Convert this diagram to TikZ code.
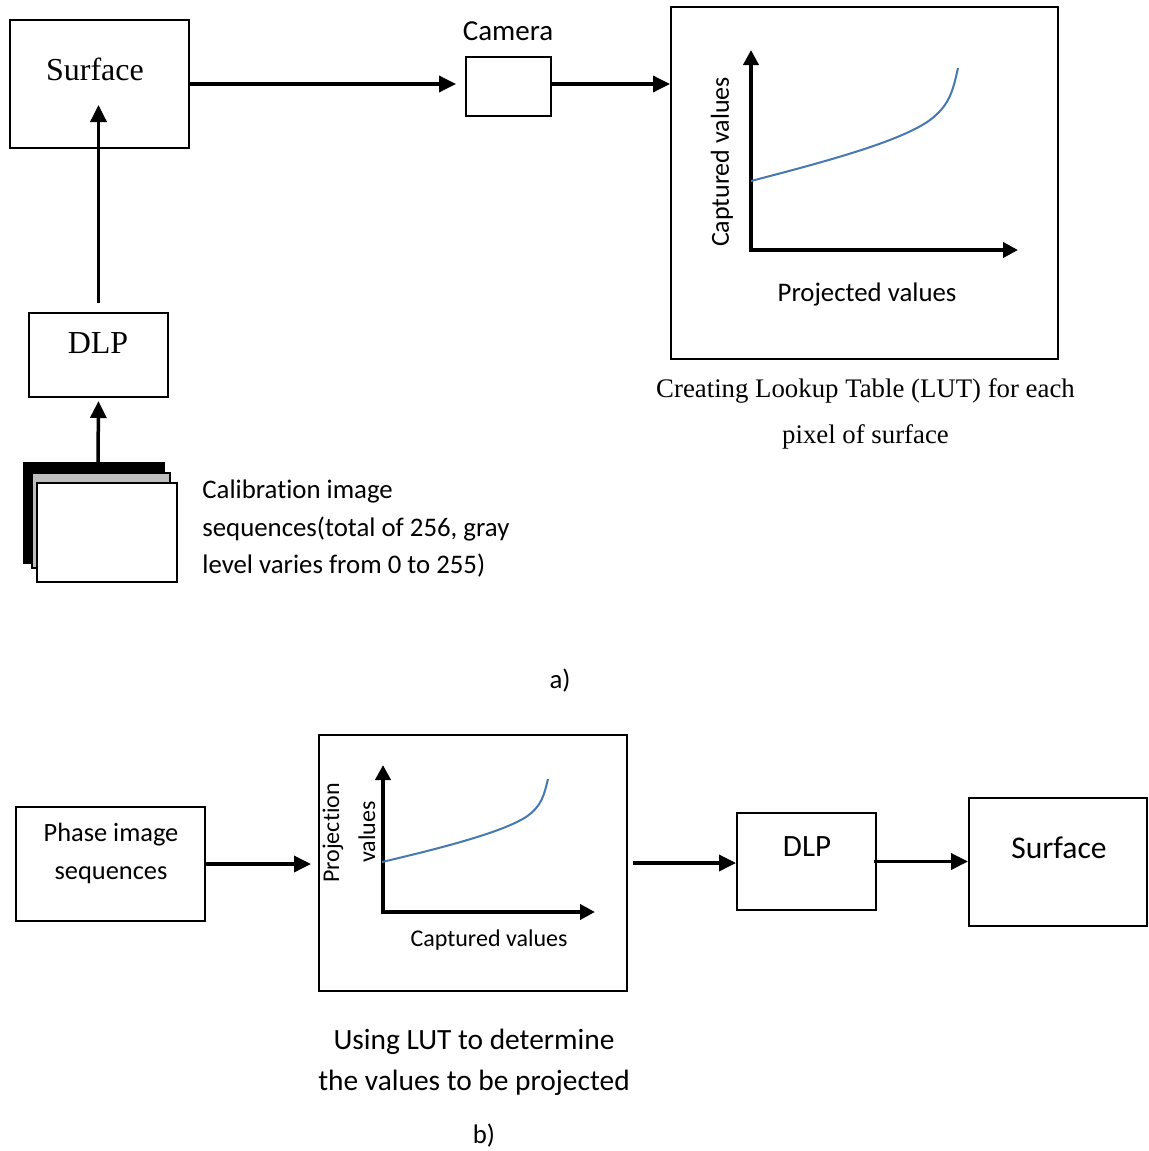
\documentclass[tikz,border=0pt]{standalone}
\usepackage{fontspec}
\setmainfont{Liberation Serif}
\newfontfamily\calibri[RawFeature={-liga}]{Carlito}
\usetikzlibrary{arrows.meta}
\definecolor{curveblue}{RGB}{70,120,178}
\tikzset{
  box/.style={draw=black, line width=1pt, fill=white, inner sep=0pt},
  arr/.style={line width=1.75pt, -{Triangle[length=8.5pt,width=8pt]}},
  axis/.style={line width=2pt, -{Triangle[length=7.5pt,width=7.5pt]}},
  lut/.style={curveblue, line width=1pt},
  sanstext/.style={font=\calibri\fontsize{13.4}{18.75}\selectfont, inner sep=0pt},
  sertext/.style={font=\fontsize{13.4}{23}\selectfont, inner sep=0pt},
}
\begin{document}
\begin{tikzpicture}[x=0.5pt,y=-0.5pt]
\useasboundingbox (0,0) rectangle (1148,1151);

% ---------- a) ----------
\node[box, minimum width=89.5pt, minimum height=64pt] (s1) at (99.5,84) {};
\node[inner sep=0pt, font=\fontsize{16}{19}\selectfont] (s1t) at (95,69) {Surface};

\node[box, minimum width=42.5pt, minimum height=29.5pt] (cam) at (508.5,86.5) {};
\node[sanstext, font=\calibri\fontsize{14.5}{17}\selectfont] (camt) at (508,31) {Camera};

\node[box, minimum width=193.5pt, minimum height=176pt] (lut1) at (864.5,183) {};
\coordinate (o1) at (751,250);
\coordinate (y1) at (751,50);
\coordinate (x1) at (1018,250);
\draw[axis] ([yshift=-1pt]o1) -- (y1);
\draw[axis] ([xshift=-1pt]o1) -- (x1);
\draw[lut] (751,181) .. controls (820,163) and (900,142) .. (930,120)
  .. controls (950,105) and (953,90) .. (958,68);
\node[sanstext, font=\calibri\fontsize{13}{16}\selectfont, rotate=90] (capv1) at (722,162) {Captured values};
\node[sanstext] (projv1) at (867,294) {Projected values};
\node[sertext, align=center] (cap1) at (865.5,414) {Creating Lookup Table (LUT) for each\\pixel of surface};

\node[box, minimum width=69.5pt, minimum height=42pt] (dlp1) at (98.5,355) {};
\node[inner sep=0pt, font=\fontsize{16}{19}\selectfont] (dlp1t) at (98,343) {DLP};

% stack of calibration images
\draw[line width=1pt, fill=black] (24,463) rectangle (164,563);
\draw[line width=1pt, fill=black!25] (32,473) rectangle (170,568);
\draw[line width=1pt, fill=white] (37,483) rectangle (177,582);
\coordinate (stk) at (98,462);
\node[sanstext, align=left, anchor=west] (calt) at (202,529) {Calibration image\\sequences(total of 256, gray\\level varies from 0 to 255)};

\draw[arr] (s1.east) -- ([xshift=-4.5pt]s1.east -| cam.west);
\draw[arr] ([yshift=1.25pt,xshift=-1pt]cam.east) -- ([yshift=1.25pt]cam.east -| lut1.west);
\draw[arr] ([yshift=4.5pt]dlp1.north) -- ([yshift=22pt]s1.south -| dlp1.north);
\draw[arr] (stk) -- ([yshift=-1.5pt]dlp1.south);

\node[sanstext] (la) at (560,681) {a)};

% ---------- b) ----------
\node[box, minimum width=94.5pt, minimum height=57pt] (ph) at (110.5,864) {};
\node[sanstext, align=center, font=\calibri\fontsize{13.2}{19}\selectfont] (pht) at (111,853) {Phase image\\sequences};

\node[box, minimum width=154pt, minimum height=128pt] (lut2) at (473,863) {};
\coordinate (o2) at (383,912);
\coordinate (y2) at (383,765);
\coordinate (x2) at (595,912);
\draw[axis] ([yshift=-1pt]o2) -- (y2);
\draw[axis] ([xshift=-1pt]o2) -- (x2);
\draw[lut] (382,862) .. controls (437,849) and (501,833) .. (526,817)
  .. controls (542,806) and (544,795) .. (548,779);
\node[sanstext, font=\calibri\fontsize{12}{15}\selectfont, rotate=90] (pv1) at (333,833) {Projection};
\node[sanstext, font=\calibri\fontsize{12}{15}\selectfont, rotate=90] (pv2) at (367,832) {values};
\node[sanstext, font=\calibri\fontsize{12}{15}\selectfont] (capv2) at (489,940) {Captured values};
\node[sanstext, align=center, font=\calibri\fontsize{14.7}{20.5}\selectfont] (cap2) at (474,1062) {Using LUT to determine\\the values to be projected};

\node[box, minimum width=69.5pt, minimum height=48.5pt] (dlp2) at (806.5,861.5) {};
\node[sanstext, font=\calibri\fontsize{15.5}{18}\selectfont] (dlp2t) at (807,847) {DLP};

\node[box, minimum width=89pt, minimum height=64pt] (s2) at (1058,862) {};
\node[sanstext, font=\calibri\fontsize{15.8}{18}\selectfont] (s2t) at (1059,848) {Surface};

\draw[arr] (ph.east) -- ([xshift=-3.5pt]ph.east -| lut2.west);
\draw[arr] ([xshift=2.5pt]lut2.east) -- (lut2.east -| dlp2.west);
\draw[arr] ([xshift=-1.5pt]dlp2.east) -- (dlp2.east -| s2.west);

\node[sanstext] (lb) at (484,1136) {b)};
\end{tikzpicture}
\end{document}
